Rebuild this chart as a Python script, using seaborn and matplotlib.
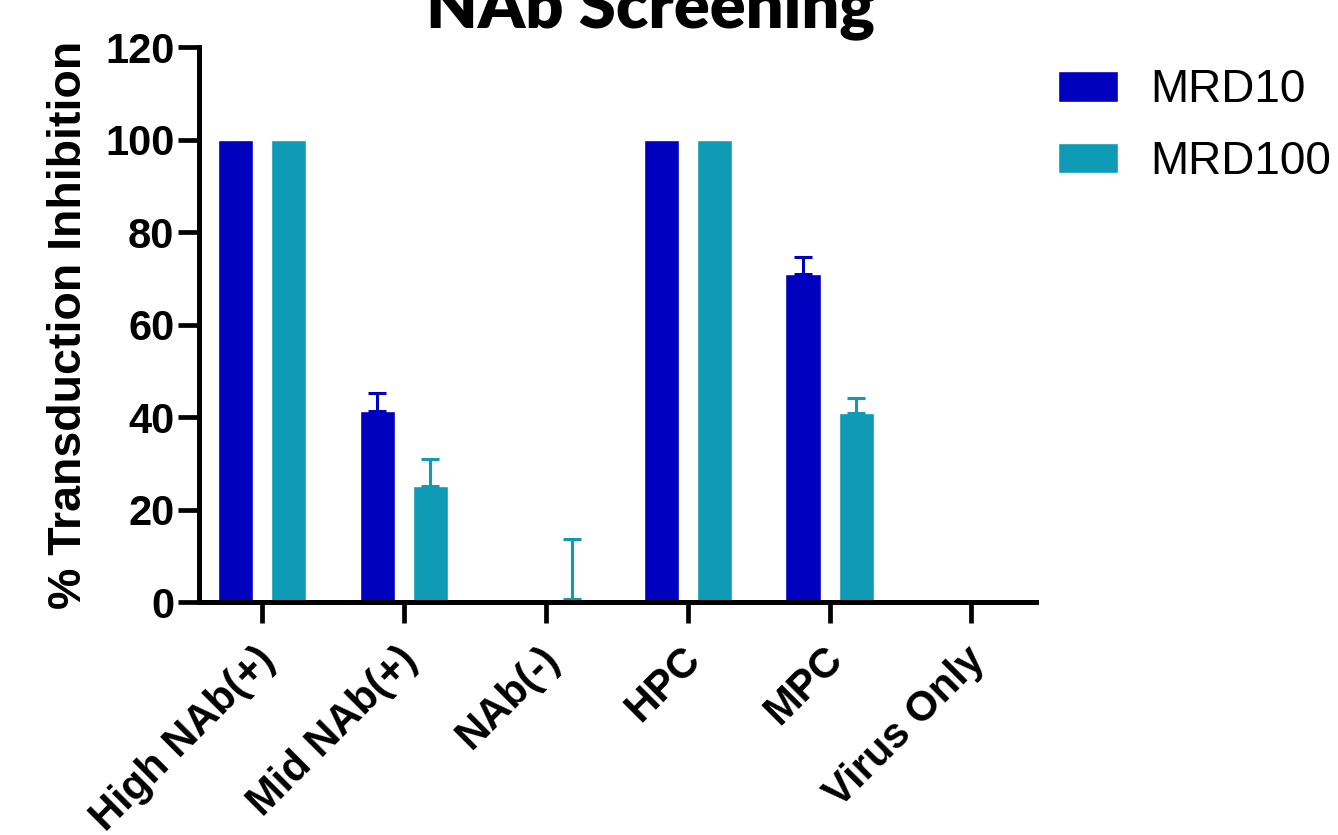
import matplotlib
matplotlib.use("Agg")
import matplotlib.pyplot as plt
import matplotlib.transforms as mtransforms
import seaborn as sns
import pandas as pd

categories = ["High NAb(+)", "Mid NAb(+)", "NAb(-)", "HPC", "MPC", "Virus Only"]
doses = ["MRD10", "MRD100"]
mrd10 = [100, 41.2, 0, 100, 71.0, 0]
mrd100 = [100, 25.0, 0.6, 100, 40.8, 0]
mrd10_err = [0, 4.1, 0, 0, 3.7, 0]
mrd100_err = [0, 5.9, 13.0, 0, 3.4, 0]
yticks = [0, 20, 40, 60, 80, 100, 120]

colors = {"MRD10": "#0000BF", "MRD100": "#0F9BB5"}

df = pd.DataFrame({
    "group": categories * 2,
    "dose": ["MRD10"] * len(categories) + ["MRD100"] * len(categories),
    "value": mrd10 + mrd100,
    "err": mrd10_err + mrd100_err,
})

sns.set_style("ticks")
plt.rcParams["font.family"] = ["Liberation Sans", "DejaVu Sans"]
for key in ["text.color", "axes.labelcolor", "xtick.color", "ytick.color",
            "axes.edgecolor"]:
    plt.rcParams[key] = "black"

fig = plt.figure(figsize=(13.38, 8.35), dpi=100)
ax = fig.add_axes([0.1491, 0.279, 0.6252, 0.6647])

sns.barplot(data=df, x="group", y="value", hue="dose", order=categories,
            hue_order=doses, palette=colors, width=0.748, gap=0.34,
            errorbar=None, saturation=1, ax=ax)

# one-sided error bars on top of each bar
for container, dose in zip(ax.containers, doses):
    sub = df[df["dose"] == dose].set_index("group").loc[categories]
    for patch, val, e in zip(container.patches, sub["value"], sub["err"]):
        if e <= 0:
            continue
        xc = patch.get_x() + patch.get_width() / 2
        ax.errorbar(xc, val, yerr=[[0], [e]], fmt="none",
                    ecolor=colors[dose], elinewidth=2.2, capsize=6.5,
                    capthick=2.2, zorder=1)

ax.set_xlim(-0.44, 5.455)
ax.set_ylim(0, 120)
ax.set_yticks(yticks)
ax.set_xlabel("")
ax.set_ylabel("% Transduction Inhibition", fontsize=33.5, fontweight="bold",
              labelpad=10)

for s in ["top", "right"]:
    ax.spines[s].set_visible(False)
ax.spines["left"].set_linewidth(3.6)
ax.spines["bottom"].set_linewidth(3.6)

ax.tick_params(axis="y", length=15, width=3.4, labelsize=30, pad=3)
ax.tick_params(axis="x", length=15, width=3.4, labelsize=30, pad=22)
for lab in ax.get_yticklabels():
    lab.set_fontweight("bold")
shift = mtransforms.ScaledTranslation(7 / 100, 0, fig.dpi_scale_trans)
for lab in ax.get_xticklabels():
    lab.set_fontweight("bold")
    lab.set_rotation(45)
    lab.set_ha("right")
    lab.set_va("center")
    lab.set_rotation_mode("anchor")
    lab.set_transform(lab.get_transform() + shift)

handles, labels = ax.get_legend_handles_labels()
ax.legend(handles, labels, loc="upper left", bbox_to_anchor=(0.791, 0.918),
          bbox_transform=fig.transFigure, frameon=False, fontsize=33,
          handlelength=1.3, handleheight=0.65, handletextpad=0.7,
          labelspacing=0.6, borderpad=0, borderaxespad=0)

fig.text(0.486, 0.967, "NAb Screening", ha="center", va="baseline",
         fontsize=48, fontweight="heavy", family=["Lato", "DejaVu Sans"])

fig.savefig("out.png", dpi=100)
